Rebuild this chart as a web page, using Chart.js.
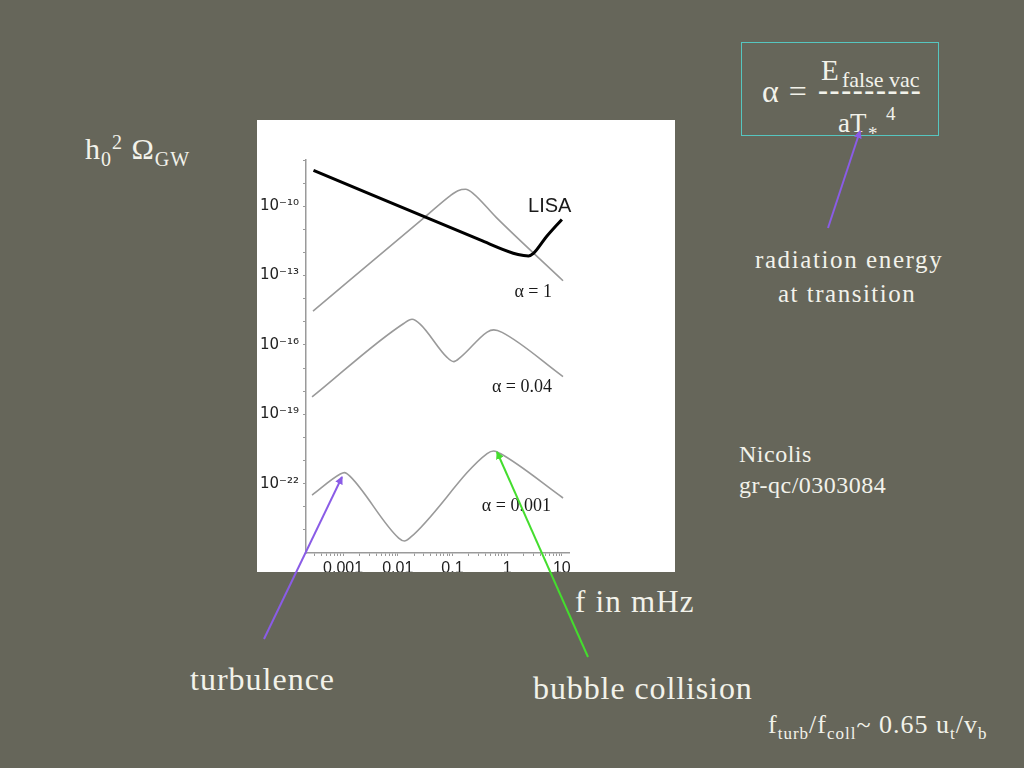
<!DOCTYPE html>
<html>
<head>
<meta charset="utf-8">
<script src="https://cdn.jsdelivr.net/npm/chart.js@4.4.1/dist/chart.umd.min.js"></script>
<style>
  html, body { margin: 0; padding: 0; }
  body { width: 1024px; height: 768px; background: #66665a; position: relative; overflow: hidden;
         font-family: "Liberation Serif", "Times New Roman", serif; color: #f2f2ea; }
  .t { position: absolute; white-space: nowrap; line-height: 1; }
  #plotbox { position: absolute; left: 257px; top: 120px; width: 418px; height: 452px; background: #ffffff; }
  #formula { position: absolute; left: 741px; top: 42px; width: 198px; height: 94px; box-sizing: border-box;
             border: 1px solid #56c6c0; }
  svg { position: absolute; left: 0; top: 0; }
</style>
</head>
<body>
<div id="plotbox"><canvas id="c" width="418" height="452"></canvas></div>

<!-- slide texts -->
<div class="t" style="left:85px; top:134px; font-size:30px; letter-spacing:1px;">h<span style="font-size:20px; position:relative; top:7px;">0</span><span style="font-size:20px; position:relative; top:-10px;">2</span> Ω<span style="font-size:20px; position:relative; top:7px;">GW</span></div>

<div id="formula"></div>
<div class="t" style="left:762px; top:75px; font-size:32px; letter-spacing:1px;">α =</div>
<div class="t" style="left:821px; top:56px; font-size:29px;">E</div>
<div class="t" style="left:842px; top:69px; font-size:22px;">false vac</div>
<div class="t" style="left:818px; top:75px; font-size:30px; letter-spacing:1.6px; font-weight:bold;">---------</div>
<div class="t" style="left:838px; top:110px; font-size:27px;">aT</div>
<div class="t" style="left:868px; top:124px; font-size:19px;">*</div>
<div class="t" style="left:886px; top:104px; font-size:19px;">4</div>

<div class="t" style="left:755px; top:247px; font-size:25px; letter-spacing:1.6px;">radiation energy</div>
<div class="t" style="left:778px; top:281px; font-size:25px; letter-spacing:1.5px;">at transition</div>

<div class="t" style="left:739px; top:442px; font-size:24px; letter-spacing:0.5px;">Nicolis</div>
<div class="t" style="left:739px; top:473px; font-size:24px; letter-spacing:0.5px;">gr-qc/0303084</div>

<div class="t" style="left:575px; top:586px; font-size:31px; letter-spacing:1.2px;">f in mHz</div>
<div class="t" style="left:190px; top:663px; font-size:32px; letter-spacing:1px;">turbulence</div>
<div class="t" style="left:533px; top:672px; font-size:32px; letter-spacing:0.9px;">bubble collision</div>

<div class="t" style="left:768px; top:712px; font-size:26px; letter-spacing:1px;">f<span style="font-size:17px; position:relative; top:6px;">turb</span>/f<span style="font-size:17px; position:relative; top:6px;">coll</span>~ 0.65 u<span style="font-size:17px; position:relative; top:6px;">t</span>/v<span style="font-size:17px; position:relative; top:6px;">b</span></div>

<svg width="1024" height="768">
  <defs>
    <marker id="mp" markerWidth="8" markerHeight="8" refX="7" refY="4" orient="auto" markerUnits="userSpaceOnUse">
      <path d="M0,0 L8,4 L0,8 z" fill="#8a5ce6"/>
    </marker>
    <marker id="mg" markerWidth="8" markerHeight="8" refX="7" refY="4" orient="auto" markerUnits="userSpaceOnUse">
      <path d="M0,0 L8,4 L0,8 z" fill="#44dd2e"/>
    </marker>
  </defs>
  <line x1="828" y1="228" x2="860" y2="131" stroke="#8a5ce6" stroke-width="2" marker-end="url(#mp)"/>
  <line x1="264" y1="639" x2="342" y2="477" stroke="#8a5ce6" stroke-width="2" marker-end="url(#mp)"/>
  <line x1="588" y1="657" x2="497" y2="452" stroke="#44dd2e" stroke-width="2" marker-end="url(#mg)"/>
</svg>

<script>
// ---- data (f in mHz, h0^2 Omega_GW) ----
const lisaF      = [2.88e-4, 0.32, 1.29, 2.0, 2.45, 3.02, 5.25, 10.0];
const lisaOmega  = [3.55e-9, 3.47e-12, 9.3e-13, 7.4e-13, 7.1e-13, 9.1e-13, 4.9e-12, 2.7e-11];

const a1F        = [2.82e-4, 0.0316, 0.0891, 0.126, 0.174, 0.24, 0.63, 10.5];
const a1Omega    = [2.9e-15, 3.47e-11, 2.75e-10, 4.7e-10, 5.4e-10, 3.55e-10, 3.3e-11, 6.0e-14];

const a004F      = [2.71e-4, 0.01285, 0.01824, 0.0259, 0.0796, 0.1057, 0.1396, 0.43, 0.569, 0.807, 10.5];
const a004Omega  = [5.6e-19, 8.5e-16, 1.29e-15, 7.8e-16, 2.9e-17, 1.9e-17, 2.9e-17, 3.6e-16, 4.5e-16, 3.5e-16, 4.3e-18];

const a0001F     = [2.71e-4, 8.9e-4, 1.06e-3, 1.36e-3, 0.0104, 0.0132, 0.017, 0.43, 0.569, 0.75, 10.5];
const a0001Omega = [3.2e-23, 2.6e-22, 3.0e-22, 2.0e-22, 4.4e-25, 3.3e-25, 4.7e-25, 2.0e-21, 2.6e-21, 2.0e-21, 2.4e-23];

const xTickValues = [0.001, 0.01, 0.1, 1, 10];
const xTickLabels = ['0.001', '0.01', '0.1', '1', '10'];
const yTickValues = [1e-10, 1e-13, 1e-16, 1e-19, 1e-22];
const yTickLabels = ['10⁻¹⁰', '10⁻¹³', '10⁻¹⁶', '10⁻¹⁹', '10⁻²²'];

const curveLabels      = ['LISA', 'α = 1', 'α = 0.04', 'α = 0.001'];
const curveLabelF      = [2.41, 6.6, 6.6, 6.3];
const curveLabelOmega  = [1.0e-10, 1.9e-14, 1.5e-18, 1.07e-23];

const xMin = 2.1e-4, xMax = 13.5, yMin = 1.3e-25, yMax = 1.0e-8;

function pts(xs, ys) { return xs.map((x, i) => ({ x: x, y: ys[i] })); }

function decadeTicks(min, max) {
  const out = [];
  let e = Math.floor(Math.log10(min));
  while (Math.pow(10, e) <= max * 1.0001) {
    for (let m = 1; m < 10; m++) {
      const v = m * Math.pow(10, e);
      if (v >= min && v <= max) out.push({ value: v, major: m === 1 });
    }
    e++;
  }
  return out;
}

const labelPlugin = {
  id: 'curveLabels',
  afterDatasetsDraw(chart) {
    const ctx = chart.ctx, xs = chart.scales.x, ys = chart.scales.y;
    ctx.save();
    ctx.fillStyle = '#1a1a1a';
    ctx.textBaseline = 'middle';
    curveLabels.forEach((txt, i) => {
      const px = xs.getPixelForValue(curveLabelF[i]);
      const py = ys.getPixelForValue(curveLabelOmega[i]);
      if (i === 0) {
        ctx.font = '20px "Liberation Sans", Arial, sans-serif';
        ctx.textAlign = 'left';
      } else {
        ctx.font = '18px "Liberation Serif", "Times New Roman", serif';
        ctx.textAlign = 'right';
      }
      ctx.fillText(txt, px, py);
    });
    ctx.restore();
  }
};

const gray = '#9a9a9a';
const common = { showLine: true, pointRadius: 0, fill: false, cubicInterpolationMode: 'monotone' };

new Chart(document.getElementById('c'), {
  type: 'scatter',
  data: {
    datasets: [
      Object.assign({ label: 'LISA', data: pts(lisaF, lisaOmega), borderColor: '#000', borderWidth: 3 }, common),
      Object.assign({ label: 'α = 1', data: pts(a1F, a1Omega), borderColor: gray, borderWidth: 1.6 }, common),
      Object.assign({ label: 'α = 0.04', data: pts(a004F, a004Omega), borderColor: gray, borderWidth: 1.6 }, common),
      Object.assign({ label: 'α = 0.001', data: pts(a0001F, a0001Omega), borderColor: gray, borderWidth: 1.6 }, common)
    ]
  },
  options: {
    responsive: false,
    devicePixelRatio: 1,
    animation: false,
    layout: { padding: { top: 40, right: 106, left: 0, bottom: 0 } },
    plugins: { legend: { display: false }, tooltip: { enabled: false } },
    scales: {
      x: {
        type: 'logarithmic', min: xMin, max: xMax,
        border: { color: '#9a9a9a', width: 1.5 },
        grid: { drawOnChartArea: false, color: '#9a9a9a', tickLength: 3 },
        afterBuildTicks: (s) => { s.ticks = decadeTicks(xMin, xMax); },
        afterFit: (s) => { s.height = 19; },
        ticks: {
          autoSkip: false, maxRotation: 0, padding: 3, color: '#222',
          font: { family: '"Liberation Sans", Arial, sans-serif', size: 16 },
          callback: (v) => { const i = xTickValues.findIndex(t => Math.abs(t - v) / t < 1e-6); return i >= 0 ? xTickLabels[i] : ''; }
        }
      },
      y: {
        type: 'logarithmic', min: yMin, max: yMax,
        border: { color: '#9a9a9a', width: 1.5 },
        grid: { drawOnChartArea: false, color: '#9a9a9a', tickLength: 3 },
        afterBuildTicks: (s) => { s.ticks = decadeTicks(yMin, yMax).filter(t => t.major); },
        afterFit: (s) => { s.width = 49; },
        ticks: {
          autoSkip: false, padding: 4, color: '#222',
          font: { family: '"DejaVu Sans", "Liberation Sans", Arial, sans-serif', size: 15 },
          callback: (v) => { const i = yTickValues.findIndex(t => Math.abs(t - v) / t < 1e-6); return i >= 0 ? yTickLabels[i] : ''; }
        }
      }
    }
  },
  plugins: [labelPlugin]
});
</script>
</body>
</html>
